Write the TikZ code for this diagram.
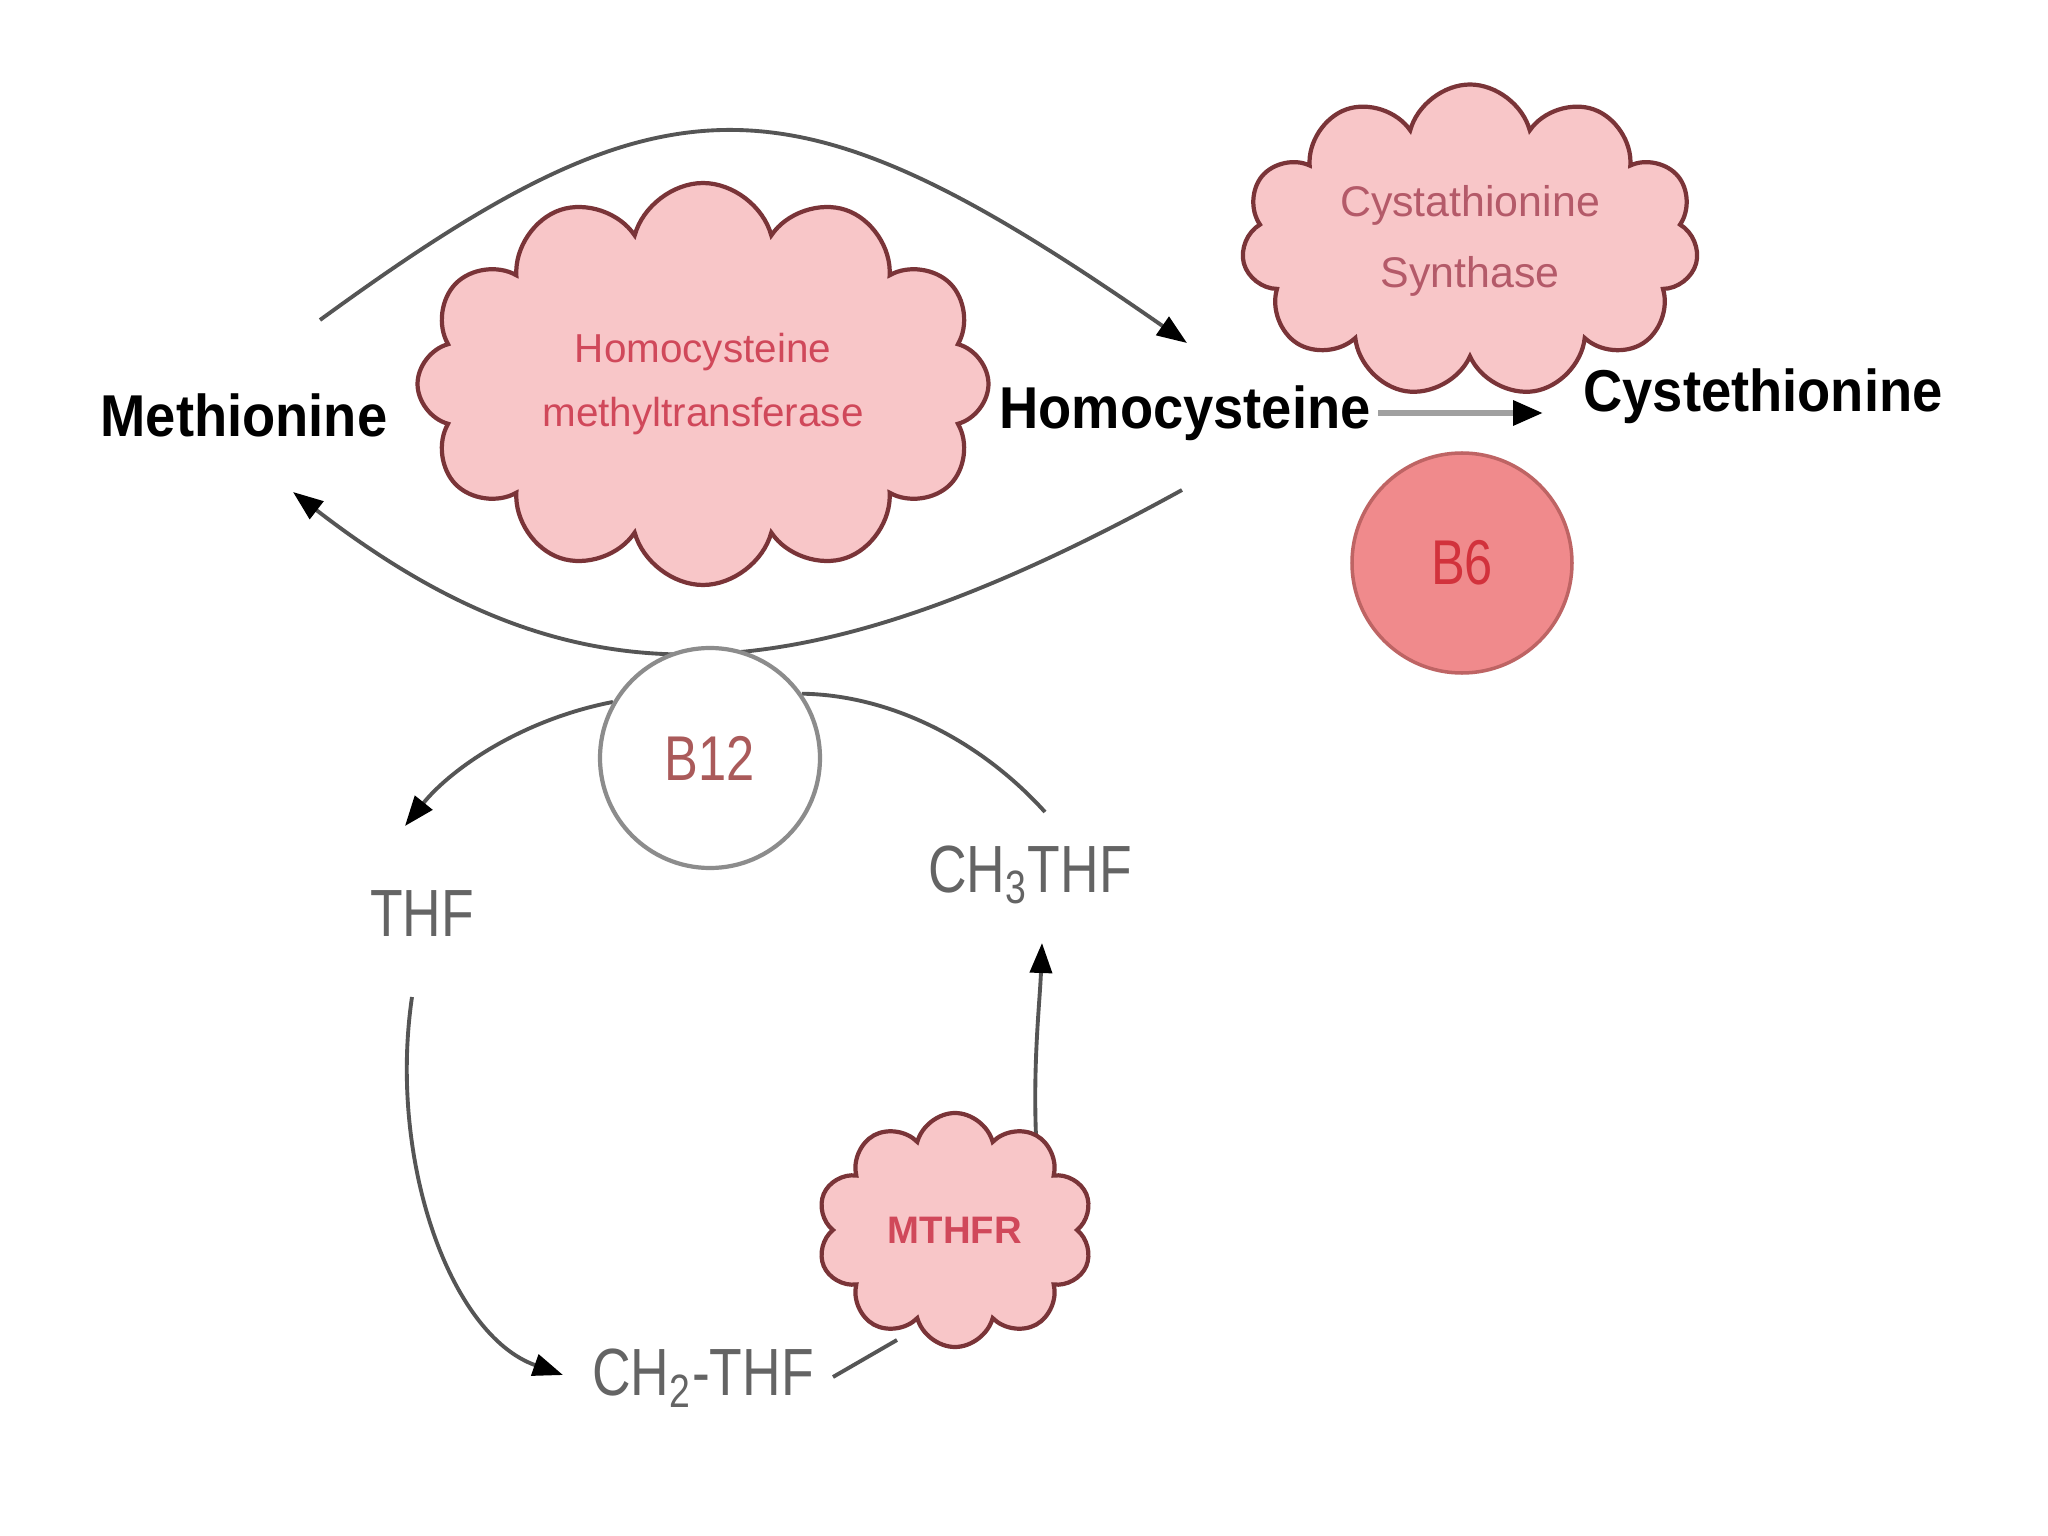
\documentclass[tikz,border=0pt]{standalone}
\usepackage{fontspec}
\setmainfont{Liberation Sans}
\newfontfamily\labfont[FakeStretch=0.92]{Liberation Sans}
\newfontfamily\narrowfont[FakeStretch=0.8]{Liberation Sans}
\usetikzlibrary{shapes.symbols,arrows.meta,calc,backgrounds}
\definecolor{cloudfill}{RGB}{248,198,200}
\definecolor{cloudline}{RGB}{122,52,56}
\definecolor{enztext}{RGB}{208,72,90}
\definecolor{cbstext}{RGB}{180,90,105}
\definecolor{bsixfill}{RGB}{240,138,140}
\definecolor{bsixline}{RGB}{190,100,100}
\definecolor{bsixtext}{RGB}{210,50,60}
\definecolor{btwline}{RGB}{140,140,140}
\definecolor{btwtext}{RGB}{170,90,90}
\definecolor{chemgray}{RGB}{100,100,100}
\definecolor{linegray}{RGB}{85,85,85}
\definecolor{lightline}{RGB}{160,160,160}
\begin{document}
\begin{tikzpicture}[x=1cm,y=1cm,
  mainlab/.style={font=\labfont\bfseries\fontsize{16.8}{18}\selectfont, text=black, inner sep=2pt},
  chemlab/.style={font=\narrowfont\fontsize{19}{20}\selectfont, text=chemgray, inner sep=2pt},
  enzcloud/.style={cloud, cloud ignores aspect, draw=cloudline, fill=cloudfill, line width=1.2pt, align=center, inner sep=0pt},
  vitcircle/.style={circle, minimum size=2.2cm, inner sep=0pt, font=\narrowfont\fontsize{18}{20}\selectfont},
  conn/.style={draw=linegray, line width=1.1pt, -{Triangle[length=0.3cm,width=0.22cm,color=black]}},
  plainconn/.style={draw=linegray, line width=1.1pt}
]
\useasboundingbox (0,0) rectangle (20.48,-15.36);

% labels
\node[mainlab] (meth) at (2.44,-4.15) {Methionine};
\node[mainlab] (homo) at (11.85,-4.13) {Homocysteine};
\node[mainlab] (cyst) at (17.63,-3.96) {Cystethionine};

% enzymes
\node[enzcloud, cloud puffs=12, minimum width=5.71cm, minimum height=4.02cm,
      font=\fontsize{11.5}{18.4}\selectfont, text=enztext] (hmt) at (7.03,-3.84)
      {Homocysteine\\methyltransferase};
\node[enzcloud, cloud puffs=11, minimum width=4.57cm, minimum height=3.13cm,
      font=\fontsize{12.2}{20}\selectfont, text=cbstext] (cbs) at (14.70,-2.41)
      {Cystathionine\\Synthase};
\node[enzcloud, cloud puffs=10, minimum width=2.76cm, minimum height=2.34cm,
      font=\bfseries\fontsize{10.9}{12}\selectfont, text=enztext] (mthfr) at (9.55,-12.30)
      {MTHFR};

% vitamins
\node[vitcircle, draw=bsixline, fill=bsixfill, line width=1pt, text=bsixtext] (b6) at (14.62,-5.63) {B6};
\node[vitcircle, draw=btwline, fill=white, line width=1.2pt, text=btwtext] (b12) at (7.10,-7.58) {B12};

% folate labels
\node[chemlab] (thf) at (4.22,-9.14) {THF};
\node[chemlab] (ch3) at (10.30,-8.75) {CH\textsubscript{3}THF};
\node[chemlab] (ch2) at (7.03,-13.78) {CH\textsubscript{2}-THF};

\begin{scope}[on background layer]
\fill[white] (0,0) rectangle (20.48,-15.36);
% Methionine -> Homocysteine
\draw[conn] ($(meth)+(0.76,0.95)$) .. controls (6.69,-0.655) and (7.89,-0.655) .. ($(homo)+(0.02,0.70)$);
% Homocysteine -> Methionine
\draw[conn] ($(homo)+(-0.03,-0.77)$) .. controls (7.9,-7.06) and (5.7,-7.06) .. ($(meth)+(0.49,-0.77)$);
% B12 -> THF
\draw[conn] (b12.150) .. controls (5.2,-7.2) and (4.5,-7.7) .. ($(thf)+(-0.17,0.88)$);
% CH3THF -> B12
\draw[plainconn] ($(ch3)+(0.15,0.63)$) .. controls (9.8,-7.4) and (8.9,-6.95) .. (b12.35);
% THF -> CH2-THF
\draw[conn] ($(thf)+(-0.10,-0.83)$) .. controls (3.88,-11.6) and (4.5,-13.35) .. ($(ch2)+(-1.40,0.03)$);
% CH2-THF -- MTHFR
\draw[plainconn] ($(ch2)+(1.30,0.01)$) -- ($(mthfr)+(-0.58,-1.10)$);
% MTHFR -> CH3THF
\draw[conn] ($(mthfr)+(0.81,0.94)$) .. controls (10.33,-10.6) and (10.40,-10.0) .. ($(ch3)+(0.12,-0.68)$);
% Homocysteine -> Cystethionine
\draw[draw=lightline, line width=1.8pt, -{Triangle[length=0.3cm,width=0.24cm,color=black]}]
  ($(homo)+(1.93,0)$) -- ($(cyst)+(-2.20,-0.17)$);
\end{scope}
\end{tikzpicture}
\end{document}
